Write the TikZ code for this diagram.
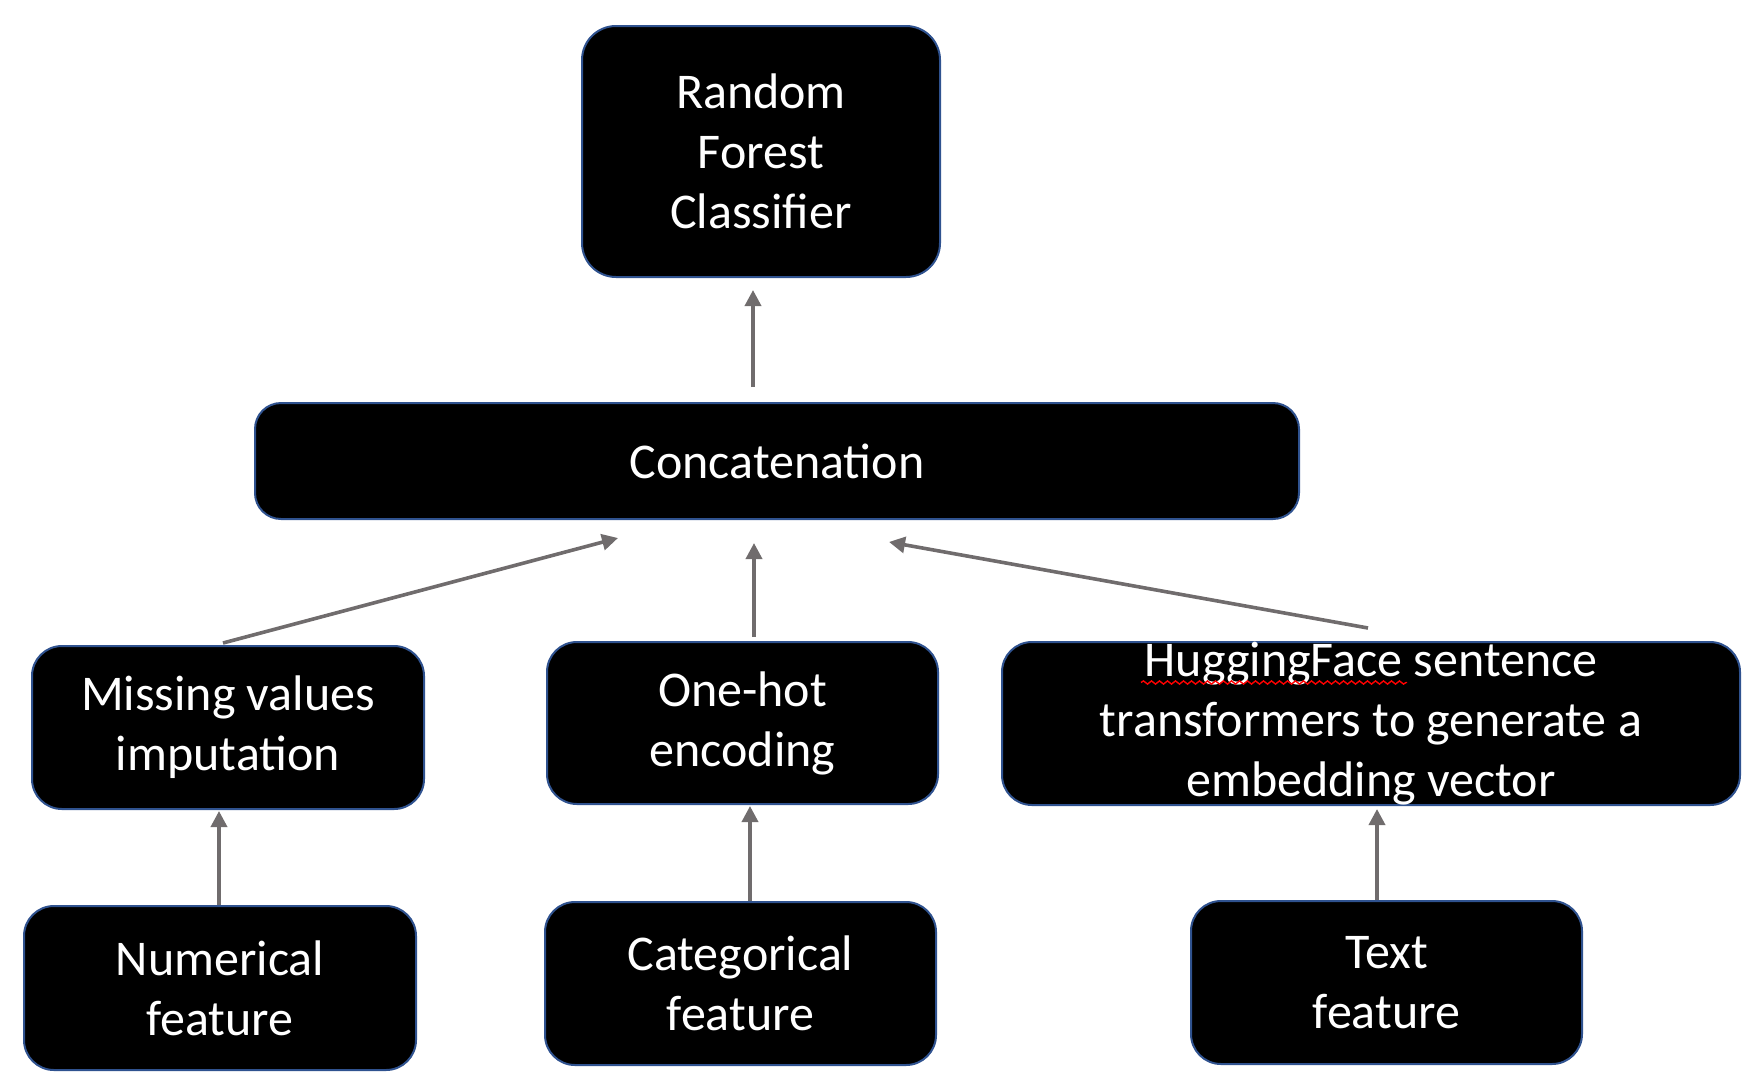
\documentclass[tikz,border=0pt]{standalone}
\usepackage{fontspec}
\setmainfont{Carlito}
\usetikzlibrary{arrows.meta,calc,decorations.pathmorphing}
\definecolor{boxedge}{HTML}{2F528F}
\definecolor{arrowgray}{HTML}{706C6D}
\begin{document}
\begin{tikzpicture}[x=0.5pt,y=-0.5pt,
  block/.style={draw=boxedge,line width=1pt,fill=black,text=white,
    rounded corners=15pt,inner sep=0pt,align=center,
    font=\fontsize{25}{30}\selectfont},
  feed/.style={draw=arrowgray,line width=1.8pt,
    -{Triangle[length=8pt,width=8pt]}}]
\useasboundingbox (0,0) rectangle (1750,1088);
% top
\node[block,minimum width=179pt,minimum height=125.5pt,rounded corners=17pt] (rf) at (761,151.5) {Random\\Forest\\Classifier};
\node[block,minimum width=522pt,minimum height=58pt,rounded corners=13pt] (concat) at (777,461) {Concatenation};
% middle row
\node[block,minimum width=196pt,minimum height=81.5pt] (miss) at (228,727.5) {Missing values\\imputation};
\node[block,minimum width=195.5pt,minimum height=81pt] (onehot) at (742.5,723) {One-hot\\encoding};
\node[block,minimum width=369pt,minimum height=81.5pt] (hf) at (1371,723.5)
  {\parbox[c][81.5pt][c]{369pt}{\centering HuggingFace sentence\\transformers to generate a\\embedding vector}};
% bottom row
\node[block,minimum width=196pt,minimum height=82pt] (num) at (220,988) {Numerical\\feature};
\node[block,minimum width=195.5pt,minimum height=81.5pt] (cat) at (740.5,983.5) {Categorical\\feature};
\node[block,minimum width=195.5pt,minimum height=81.5pt] (text) at (1386.5,982.5) {Text\\feature};
% spell check mark
\draw[red,line width=0.7pt,decorate,decoration={snake,amplitude=0.8pt,segment length=4pt}]
  ($(hf.center)+(-230,-41)$) -- ($(hf.center)+(36,-41)$);
% arrows
\draw[feed] ($(concat.north)+(-24,-15)$) -- ($(rf.south)+(-8,12)$);
\draw[feed] ($(miss.north)+(-5,-2)$) -- ($(concat.south)+(-159,18)$);
\draw[feed] ($(onehot.north)+(11.5,-4)$) -- ($(concat.south)+(-23,23)$);
\draw[feed] ($(hf.north)+(-3,-13)$) -- ($(concat.south)+(112,22)$);
\draw[feed] ($(num.north)+(-1,0)$) -- ($(miss.south)+(-9,1)$);
\draw[feed] ($(cat.north)+(9.5,0)$) -- ($(onehot.south)+(7.5,1)$);
\draw[feed] ($(text.north)+(-9.5,0)$) -- ($(hf.south)+(6,3)$);
\end{tikzpicture}
\end{document}
